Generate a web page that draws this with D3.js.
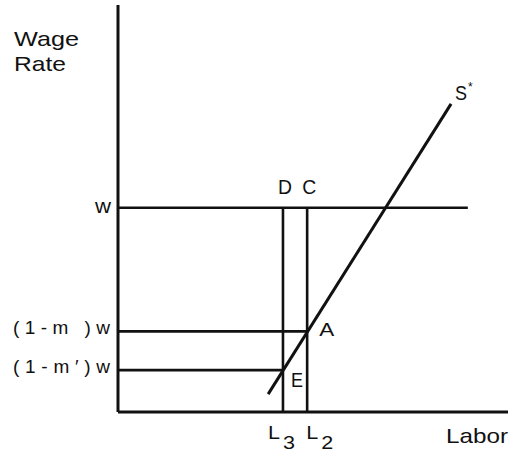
<!DOCTYPE html>
<html>
<head>
<meta charset="utf-8">
<script src="https://cdn.jsdelivr.net/npm/d3@7"></script>
<style>
  html, body { margin: 0; padding: 0; background: #fff; }
  svg { display: block; }
  text { font-family: "Liberation Sans", Arial, Helvetica, sans-serif; fill: #111; }
</style>
</head>
<body>
<svg id="chart" width="517" height="457"></svg>
<script>
// ---- Data (schematic units) ----
const axisExtent = { xMax: 100, yMax: 100 };
const wageLevels = [
  { key: "w",  label: "w",       value: 50.2, xEnd: 89.7 },
  { key: "m",  label: "(1-m )w", value: 19.8, xEnd: 48.5 },
  { key: "mp", label: "(1-m\u2032)w", value: 10.3, xEnd: 42.3 }
];
const laborLevels = [
  { key: "L3", label: "L", sub: "3", value: 42.3, top: 50.2, mark: "D" },
  { key: "L2", label: "L", sub: "2", value: 48.5, top: 50.2, mark: "C" }
];
const supplyCurve = [
  { x: 38.5, y: 4.4 },
  { x: 85.4, y: 75.7 }
];
const points = [
  { label: "A", x: 48.5, y: 19.8 },
  { label: "E", x: 42.3, y: 10.3 }
];

// ---- Scales ----
const x = d3.scaleLinear().domain([0, axisExtent.xMax]).range([118, 508]);
const y = d3.scaleLinear().domain([0, axisExtent.yMax]).range([412, 5]);

const svg = d3.select("#chart");
const ink = "#111";

function stretchText(sel, width, mode) {
  sel.attr("textLength", width).attr("lengthAdjust", mode || "spacingAndGlyphs");
  return sel;
}

// Axes
svg.append("line").attr("x1", x(0)).attr("x2", x(0)).attr("y1", y(0)).attr("y2", y(axisExtent.yMax))
  .attr("stroke", ink).attr("stroke-width", 3);
svg.append("line").attr("x1", x(0)).attr("x2", x(axisExtent.xMax)).attr("y1", y(0)).attr("y2", y(0))
  .attr("stroke", ink).attr("stroke-width", 3);

// Horizontal wage lines
svg.selectAll(".wage").data(wageLevels).enter().append("line")
  .attr("x1", x(0)).attr("x2", d => x(d.xEnd))
  .attr("y1", d => y(d.value)).attr("y2", d => y(d.value))
  .attr("stroke", ink).attr("stroke-width", 2.6);

// Vertical labour lines
svg.selectAll(".labor").data(laborLevels).enter().append("line")
  .attr("x1", d => x(d.value)).attr("x2", d => x(d.value))
  .attr("y1", y(0)).attr("y2", d => y(d.top))
  .attr("stroke", ink).attr("stroke-width", 2.6);

// Supply curve S*
svg.append("path").datum(supplyCurve)
  .attr("d", d3.line().x(d => x(d.x)).y(d => y(d.y)))
  .attr("fill", "none").attr("stroke", ink).attr("stroke-width", 3);

// Axis titles
stretchText(svg.append("text").attr("x", 14).attr("y", 46).attr("font-size", 21).text("Wage"), 65);
stretchText(svg.append("text").attr("x", 14).attr("y", 71).attr("font-size", 21).text("Rate"), 52);
stretchText(svg.append("text").attr("x", 446).attr("y", 443).attr("font-size", 21).text("Labor"), 62);

// Wage level labels
const wageLabelLayout = {
  w:  { x: 95, width: 16, size: 20, dy: 5, mode: "spacingAndGlyphs" },
  m:  { x: 13, width: 97, size: 19, dy: 3, mode: "spacing" },
  mp: { x: 13, width: 97, size: 19, dy: 3, mode: "spacing" }
};
svg.selectAll(".wlab").data(wageLevels).enter().append("text")
  .attr("x", d => wageLabelLayout[d.key].x)
  .attr("y", d => y(d.value) + wageLabelLayout[d.key].dy)
  .attr("font-size", d => wageLabelLayout[d.key].size)
  .attr("textLength", d => wageLabelLayout[d.key].width)
  .attr("lengthAdjust", d => wageLabelLayout[d.key].mode)
  .text(d => d.label);

// Labour labels with subscripts
const laborLabelOffset = { L3: -15, L2: -1 };
laborLevels.forEach(d => {
  const lx = x(d.value) + laborLabelOffset[d.key];
  stretchText(svg.append("text").attr("x", lx).attr("y", 439).attr("font-size", 19).text(d.label), 12);
  stretchText(svg.append("text").attr("x", lx + 15).attr("y", 449).attr("font-size", 19).text(d.sub), 12);
  // D / C marks above
  stretchText(svg.append("text").attr("x", x(d.value) - 5).attr("y", 194).attr("font-size", 20).text(d.mark), 14);
});

// Point labels
stretchText(svg.append("text").attr("x", x(points[0].x) + 12).attr("y", y(points[0].y) + 5)
  .attr("font-size", 18).text(points[0].label), 15);
stretchText(svg.append("text").attr("x", x(points[1].x) + 8).attr("y", y(points[1].y) + 17)
  .attr("font-size", 21).text(points[1].label), 12);

// S* label
stretchText(svg.append("text").attr("x", 455).attr("y", 100).attr("font-size", 20).text("S"), 12);
svg.append("text").attr("x", 468).attr("y", 91).attr("font-size", 12).text("*");
</script>
</body>
</html>
